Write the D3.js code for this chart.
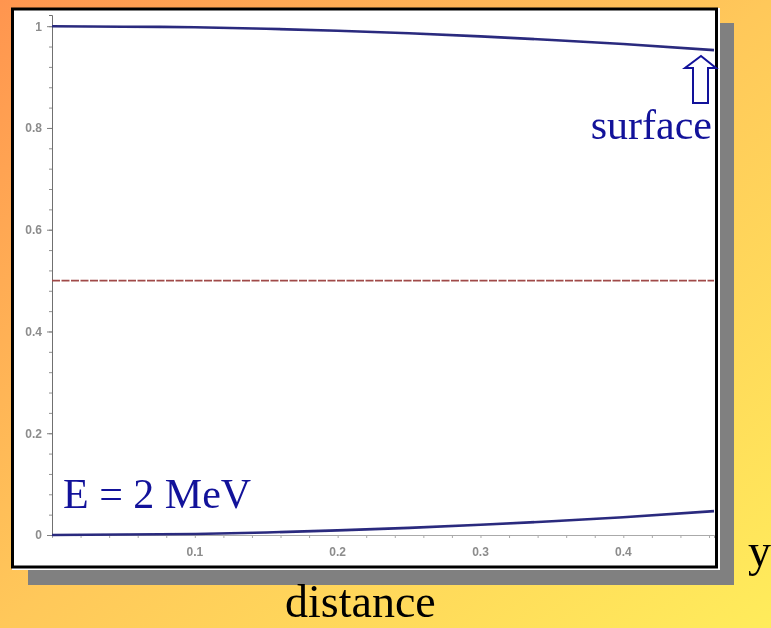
<!DOCTYPE html>
<html>
<head>
<meta charset="utf-8">
<script src="https://cdn.jsdelivr.net/npm/d3@7"></script>
<style>
  html, body { margin: 0; padding: 0; overflow: hidden; }
  svg { display: block; }
</style>
</head>
<body>
<svg id="chart" width="771" height="628"></svg>
<script>
// Distance sampled along the path
const distance = [0, 0.05, 0.1, 0.15, 0.2, 0.25, 0.3, 0.35, 0.4, 0.4635];
// Upper curve (survival) and lower curve (conversion)
const upperCurve = [1, 0.999, 0.998, 0.995, 0.991, 0.986, 0.980, 0.973, 0.965, 0.953];
const lowerCurve = [0, 0.001, 0.002, 0.005, 0.009, 0.014, 0.020, 0.027, 0.035, 0.047];
// Reference level
const halfLevel = 0.5;
// Tick values
const yMajorTicks = [0, 0.2, 0.4, 0.6, 0.8, 1];
const yTickLabels = ["0", "0.2", "0.4", "0.6", "0.8", "1"];
const xMajorTicks = [0.1, 0.2, 0.3, 0.4];
const xTickLabels = ["0.1", "0.2", "0.3", "0.4"];

const svg = d3.select("#chart");
const defs = svg.append("defs");

// Diagonal orange-to-yellow backdrop
const grad = defs.append("linearGradient").attr("id", "bg")
  .attr("x1", "0%").attr("y1", "0%").attr("x2", "100%").attr("y2", "100%");
grad.append("stop").attr("offset", "0%").attr("stop-color", "#ff954f");
grad.append("stop").attr("offset", "50%").attr("stop-color", "#ffc85a");
grad.append("stop").attr("offset", "100%").attr("stop-color", "#ffec5b");

const soft = defs.append("filter").attr("id", "soft")
  .attr("x", "-5%").attr("y", "-5%").attr("width", "110%").attr("height", "110%");
soft.append("feGaussianBlur").attr("stdDeviation", 0.7);

svg.append("rect").attr("width", 771).attr("height", 628).attr("fill", "url(#bg)");

// Drop shadow and framed panel
svg.append("rect").attr("x", 28).attr("y", 23).attr("width", 706).attr("height", 562).attr("fill", "#808080");
svg.append("rect").attr("x", 12).attr("y", 8).attr("width", 708).attr("height", 562).attr("fill", "#ffffff");
svg.append("rect").attr("x", 12.5).attr("y", 9).attr("width", 704).attr("height", 558)
  .attr("fill", "#ffffff").attr("stroke", "#000").attr("stroke-width", 3);

const x = d3.scaleLinear().domain([0, 0.4635]).range([52, 714]);
const y = d3.scaleLinear().domain([0, 1.022]).range([535, 15]);

const plot = svg.append("g").attr("filter", "url(#soft)");

// x axis: minor ticks every 0.02, labels every 0.1
const xMinor = d3.range(0, 0.4635, 0.02);
const xAxis = plot.append("g").attr("transform", `translate(0,${y(0)})`)
  .call(d3.axisBottom(x).tickValues(xMinor).tickSize(3).tickFormat(""));
xAxis.select(".domain").attr("stroke", "#aaaaaa");
xAxis.selectAll(".tick line").attr("stroke", "#aaaaaa");
plot.append("g").selectAll("text").data(xMajorTicks).join("text")
  .attr("x", d => x(d)).attr("y", 556)
  .attr("text-anchor", "middle")
  .attr("font-family", "Liberation Sans, Arial, sans-serif")
  .attr("font-size", 12).attr("font-weight", "bold").attr("fill", "#8c8c8c")
  .text((d, i) => xTickLabels[i]);

// y axis: minor ticks every 0.04, labels every 0.2
const yMinor = d3.range(0, 1.01, 0.04);
const yAxis = plot.append("g").attr("transform", `translate(${x(0)},0)`)
  .call(d3.axisLeft(y).tickValues(yMinor).tickSize(3).tickFormat(""));
yAxis.select(".domain").attr("stroke", "#707070");
yAxis.selectAll(".tick line").attr("stroke", "#909090");
plot.append("g").attr("transform", `translate(${x(0)},0)`)
  .call(d3.axisLeft(y).tickValues(yMajorTicks).tickSize(5).tickFormat((d, i) => yTickLabels[i]))
  .call(g => g.select(".domain").remove())
  .call(g => g.selectAll(".tick line").attr("stroke", "#808080"))
  .call(g => g.selectAll(".tick text")
    .attr("font-family", "Liberation Sans, Arial, sans-serif")
    .attr("font-size", 12).attr("font-weight", "bold").attr("fill", "#8c8c8c")
    .attr("x", -10));

// Half-level reference line
plot.append("line")
  .attr("x1", x(0)).attr("x2", x(0.4635))
  .attr("y1", y(halfLevel)).attr("y2", y(halfLevel))
  .attr("stroke", "#a04a48").attr("stroke-width", 1.8)
  .attr("stroke-dasharray", "8,1.5");

const line = d3.line().x((d, i) => x(distance[i])).y(d => y(d)).curve(d3.curveMonotoneX);
plot.append("path").datum(upperCurve).attr("d", line)
  .attr("fill", "none").attr("stroke", "#2a2a7e").attr("stroke-width", 2.6);
plot.append("path").datum(lowerCurve).attr("d", line)
  .attr("fill", "none").attr("stroke", "#2a2a7e").attr("stroke-width", 2.6);

// Hollow arrow pointing at the surface end
svg.append("path")
  .attr("d", "M701,56 L716,68 L708,68 L708,103 L693,103 L693,68 L685,68 Z")
  .attr("fill", "#ffffff").attr("stroke", "#12129a").attr("stroke-width", 2)
  .attr("stroke-linejoin", "miter");

const serif = "Liberation Serif, Times New Roman, serif";
svg.append("text").attr("x", 712).attr("y", 139).attr("text-anchor", "end")
  .attr("font-family", serif).attr("font-size", 42).attr("fill", "#12129a")
  .text("surface");
svg.append("text").attr("x", 63).attr("y", 508)
  .attr("font-family", serif).attr("font-size", 42).attr("fill", "#12129a")
  .text("E = 2 MeV");
svg.append("text").attr("x", 285).attr("y", 617)
  .attr("font-family", serif).attr("font-size", 46).attr("fill", "#000")
  .text("distance");
svg.append("text").attr("x", 748).attr("y", 566)
  .attr("font-family", serif).attr("font-size", 46).attr("fill", "#000")
  .text("y");
</script>
</body>
</html>
